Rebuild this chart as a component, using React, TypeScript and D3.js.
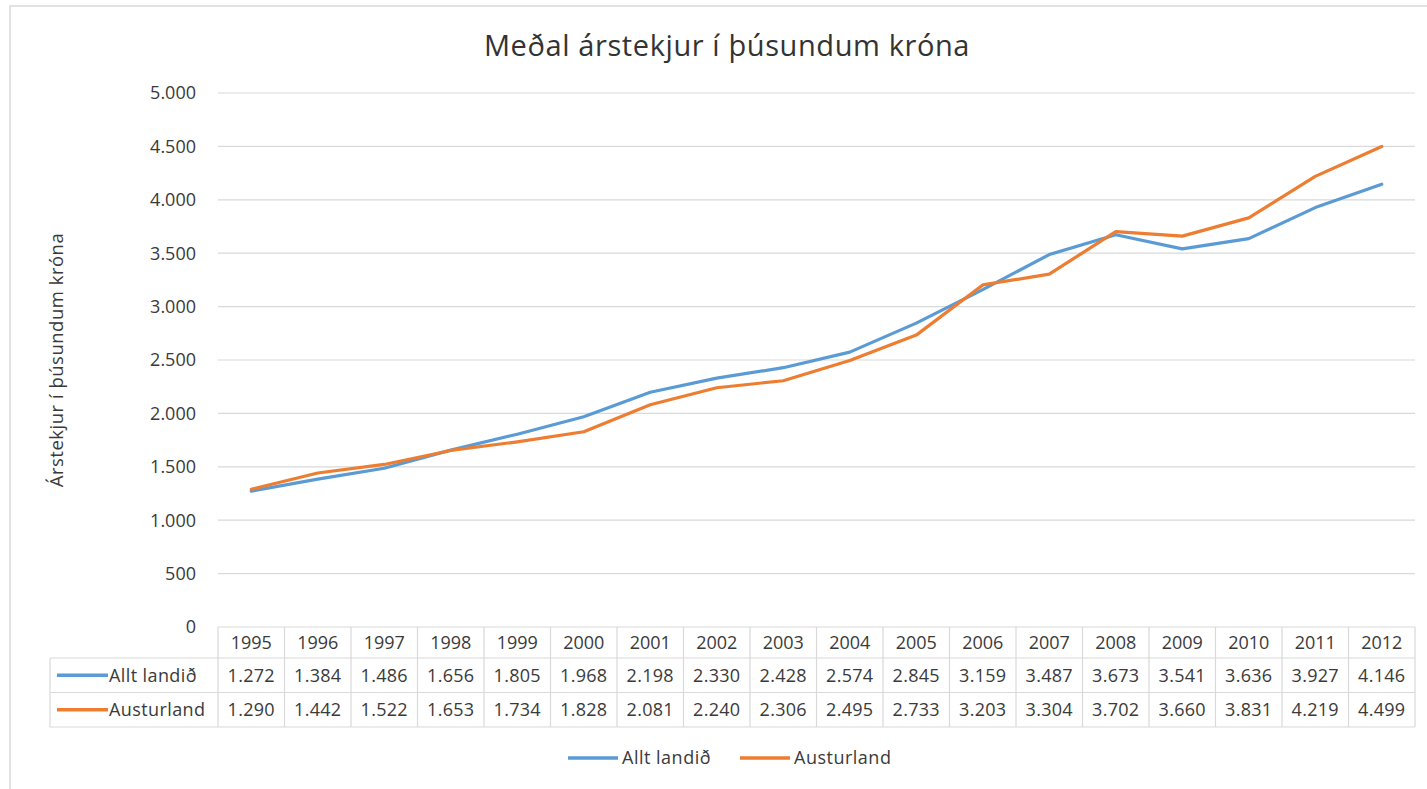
import * as d3 from "d3"

const years = ["1995", "1996", "1997", "1998", "1999", "2000", "2001", "2002", "2003", "2004", "2005", "2006", "2007", "2008", "2009", "2010", "2011", "2012"]
const alltLandid = [1272, 1384, 1486, 1656, 1805, 1968, 2198, 2330, 2428, 2574, 2845, 3159, 3487, 3673, 3541, 3636, 3927, 4146]
const austurland = [1290, 1442, 1522, 1653, 1734, 1828, 2081, 2240, 2306, 2495, 2733, 3203, 3304, 3702, 3660, 3831, 4219, 4499]
const yTicks = [0, 500, 1000, 1500, 2000, 2500, 3000, 3500, 4000, 4500, 5000]
const seriesNames = ["Allt landið", "Austurland"]
const seriesColors = ["#5B9BD5", "#ED7D31"]

const W = 1427
const H = 789
const FONT = "'Open Sans', sans-serif"
const fmt = (v: number) => d3.format(",")(v).replace(/,/g, ".")

export default function App() {
  const margin = { left: 218, right: 12, top: 93, bottom: 162 }
  const x = d3.scaleBand<string>().domain(years).range([margin.left, W - margin.right]).padding(0)
  const y = d3.scaleLinear().domain([0, 5000]).range([H - margin.bottom, margin.top])
  const cx = (d: string) => (x(d) || 0) + x.bandwidth() / 2

  const series = [alltLandid, austurland]
  const line = d3
    .line<number>()
    .x((_, i) => cx(years[i]))
    .y((d) => y(d))

  const y0 = y(0)
  const rowH = 34.5
  const tableLeft = 50
  const tableRight = W - margin.right
  const headerBottom = y0 + 31
  const rowTops = [headerBottom, headerBottom + rowH]
  const tableBottom = headerBottom + rowH * 2
  const grid = "#D9D9D9"
  const txt = "#3a3a3a"
  const fs = 18

  return (
    <svg width={W} height={H} style={{ position: "fixed", left: 0, top: 0, background: "#fff" }} fontFamily={FONT}>
      <rect x={10} y={6} width={W} height={H} fill="#fff" stroke="#D9D9D9" strokeWidth={1.5} />
      <text x={727} y={56} textAnchor="middle" fontSize={29} letterSpacing={0.6} fill="#333">
        Meðal árstekjur í þúsundum króna
      </text>

      {yTicks.map((t) => (
        <g key={t}>
          {t > 0 && <line x1={margin.left} x2={W - margin.right} y1={y(t)} y2={y(t)} stroke={grid} strokeWidth={1.2} />}
          <text x={196} y={y(t)} dy="0.35em" textAnchor="end" fontSize={fs} fill={txt}>
            {fmt(t)}
          </text>
        </g>
      ))}

      <text
        transform={`translate(63,${(y(5000) + y(0)) / 2}) rotate(-90)`}
        textAnchor="middle"
        fontSize={18.5}
        letterSpacing={0.5}
        fill={txt}
      >
        Árstekjur í þúsundum króna
      </text>

      {/* data table */}
      <g stroke={grid} strokeWidth={1.2}>
        <line x1={margin.left} x2={tableRight} y1={y0} y2={y0} />
        {rowTops.map((r) => (
          <line key={r} x1={tableLeft} x2={tableRight} y1={r} y2={r} />
        ))}
        <line x1={tableLeft} x2={tableRight} y1={tableBottom} y2={tableBottom} />
        <line x1={tableLeft} x2={tableLeft} y1={headerBottom} y2={tableBottom} />
        {years.map((yr) => (
          <line key={yr} x1={x(yr)} x2={x(yr)} y1={y0} y2={tableBottom} />
        ))}
        <line x1={tableRight} x2={tableRight} y1={y0} y2={tableBottom} />
      </g>
      {years.map((yr) => (
        <text key={yr} x={cx(yr)} y={(y0 + headerBottom) / 2} dy="0.35em" textAnchor="middle" fontSize={fs} fill={txt}>
          {yr}
        </text>
      ))}
      {series.map((s, si) => (
        <g key={si}>
          <line x1={57} x2={108} y1={rowTops[si] + rowH / 2} y2={rowTops[si] + rowH / 2} stroke={seriesColors[si]} strokeWidth={3.5} />
          <text x={109} y={rowTops[si] + rowH / 2} dy="0.35em" fontSize={fs} letterSpacing={0.4} fill={txt}>
            {seriesNames[si]}
          </text>
          {s.map((v, i) => (
            <text key={i} x={cx(years[i])} y={rowTops[si] + rowH / 2} dy="0.35em" textAnchor="middle" fontSize={fs} letterSpacing={0.3} fill={txt}>
              {fmt(v)}
            </text>
          ))}
        </g>
      ))}

      {/* lines */}
      {series.map((s, si) => (
        <path key={si} d={line(s) || ""} fill="none" stroke={seriesColors[si]} strokeWidth={3.2} strokeLinejoin="round" strokeLinecap="round" />
      ))}

      {/* legend */}
      {seriesNames.map((n, i) => {
        const lx = i === 0 ? 568 : 740
        return (
          <g key={n}>
            <line x1={lx} x2={lx + 50} y1={758} y2={758} stroke={seriesColors[i]} strokeWidth={3.5} />
            <text x={lx + 54} y={758} dy="0.35em" fontSize={fs} letterSpacing={0.5} fill={txt}>
              {n}
            </text>
          </g>
        )
      })}
    </svg>
  )
}
